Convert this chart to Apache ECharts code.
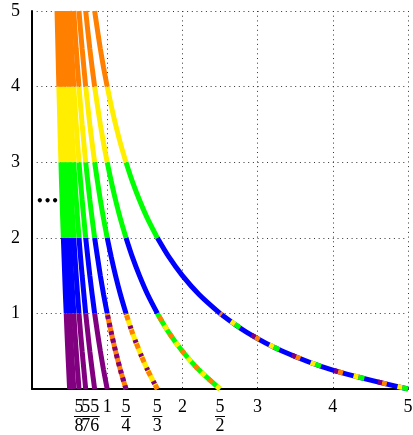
<!DOCTYPE html>
<html><head><meta charset="utf-8">
<script src="https://cdn.jsdelivr.net/npm/echarts@6/dist/echarts.min.js"></script>
<style>html,body{margin:0;padding:0;background:#fff}#c{width:413px;height:435px}</style>
</head><body><div id="c"></div>
<script>
// y positions of the sampled points (shared by all curves)
const yLevels = [0,0.25,0.5,0.75,1,1.25,1.5,1.75,2,2.25,2.5,2.75,3,3.25,3.5,3.75,4,4.25,4.5,4.75,5];
// x positions of each curve at those y levels
const curve1 = [5.000,4.000,3.333,2.857,2.500,2.222,2.000,1.818,1.667,1.538,1.429,1.333,1.250,1.176,1.111,1.053,1.000,0.952,0.909,0.870,0.833];
const curve2 = [2.500,2.222,2.000,1.818,1.667,1.538,1.429,1.333,1.250,1.176,1.111,1.053,1.000,0.952,0.909,0.870,0.833,0.800,0.769,0.741,0.714];
const curve3 = [1.667,1.538,1.429,1.333,1.250,1.176,1.111,1.053,1.000,0.952,0.909,0.870,0.833,0.800,0.769,0.741,0.714,0.690,0.667,0.645,0.625];
const curve4 = [1.250,1.176,1.111,1.053,1.000,0.952,0.909,0.870,0.833,0.800,0.769,0.741,0.714,0.690,0.667,0.645,0.625,0.606,0.588,0.571,0.556];
const curve5 = [1.000,0.952,0.909,0.870,0.833,0.800,0.769,0.741,0.714,0.690,0.667,0.645,0.625,0.606,0.588,0.571,0.556,0.541,0.526,0.513,0.500];
const curve6 = [0.833,0.800,0.769,0.741,0.714,0.690,0.667,0.645,0.625,0.606,0.588,0.571,0.556,0.541,0.526,0.513,0.500,0.488,0.476,0.465,0.455];
const curve7 = [0.714,0.690,0.667,0.645,0.625,0.606,0.588,0.571,0.556,0.541,0.526,0.513,0.500,0.488,0.476,0.465,0.455,0.444,0.435,0.426,0.417];
const curve8 = [0.625,0.606,0.588,0.571,0.556,0.541,0.526,0.513,0.500,0.488,0.476,0.465,0.455,0.444,0.435,0.426,0.417,0.408,0.400,0.392,0.385];
const curve9 = [0.556,0.541,0.526,0.513,0.500,0.488,0.476,0.465,0.455,0.444,0.435,0.426,0.417,0.408,0.400,0.392,0.385,0.377,0.370,0.364,0.357];
const curve10 = [0.500,0.488,0.476,0.465,0.455,0.444,0.435,0.426,0.417,0.408,0.400,0.392,0.385,0.377,0.370,0.364,0.357,0.351,0.345,0.339,0.333];
// x tick labels
const xTickValues = [0.625, 0.7143, 0.8333, 1, 1.25, 1.6667, 2, 2.5, 3, 4, 5];
const xTickNum = ['5','5','5','1','5','5','2','5','3','4','5'];
const xTickDen = ['8','7','6','','4','3','','2','','',''];
const yTickLabels = ['', '1', '2', '3', '4', '5'];

const curves = [curve1,curve2,curve3,curve4,curve5,curve6,curve7,curve8,curve9,curve10];
const bandColors = ['#800080','#0000ff','#00ff00','#ffee00','#ff8000'];
const C = {purple:'#800080', blue:'#0000ff', green:'#00ff00', yellow:'#ffee00', orange:'#ff8000'};
// styling of the multicoloured lowest segments of the first four curves
const bottomStyles = [
  {base:C.blue, over:[{c:C.green,d:[6,39],o:0},{c:C.yellow,d:[5,40],o:-6},{c:C.orange,d:[5,40],o:-22},{c:C.purple,d:[4,41],o:-27}]},
  {base:C.green, over:[{c:C.yellow,d:[5,15],o:0},{c:C.orange,d:[5,15],o:-10}]},
  {base:C.yellow, over:[{c:C.orange,d:[5,10],o:0},{c:C.purple,d:[3,12],o:-6}]},
  {base:C.orange, over:[{c:C.purple,d:[4,4],o:0}]}
];
const LW = 5;
const series = [];
for (let ci = curves.length - 1; ci >= 0; ci--) {
  const xs = curves[ci];
  for (let b = 0; b < 5; b++) {
    const pts = [];
    for (let j = b * 4; j <= b * 4 + 4; j++) pts.push([xs[j], yLevels[j]]);
    let baseColor = bandColors[b];
    const special = (b === 0 && ci < bottomStyles.length) ? bottomStyles[ci] : null;
    if (special) baseColor = special.base;
    series.push({type:'line', data:pts, symbol:'none', smooth:0.3, silent:true, animation:false,
      lineStyle:{width:LW, color:baseColor, cap:'butt'}, z:3});
    if (special) {
      special.over.forEach(o => {
        series.push({type:'line', data:pts, symbol:'none', smooth:0.3, silent:true, animation:false,
          lineStyle:{width:LW, color:o.c, type:o.d, dashOffset:o.o, cap:'butt'}, z:4});
      });
    }
  }
}

const serif = 'Liberation Serif';
const xLabelRich = {
  n:{fontFamily:serif, fontSize:18, lineHeight:16, color:'#000', align:'center'},
  bar:{width:10, height:1, lineHeight:3, backgroundColor:'#000', fontSize:1, align:'center'}
};
function xLabelFormatter(v){
  let idx = 0, best = 1e9;
  xTickValues.forEach((t,i)=>{ if (Math.abs(t-v) < best){best=Math.abs(t-v); idx=i;} });
  if (xTickDen[idx]) return '{n|' + xTickNum[idx] + '}\n{bar| }\n{n|' + xTickDen[idx] + '}';
  return '{n|' + xTickNum[idx] + '}';
}
// the closely packed labels 5/8, 5/7, 5/6 are split over several overlaid axes so none is dropped
const labelGroups = [
  [xTickValues[0]].concat(xTickValues.slice(3)),
  [xTickValues[1]],
  [xTickValues[2]]
];
const xAxes = labelGroups.map((vals, gi) => ({
  type:'value', min:0, max:5, interval:1, position:'bottom', offset:0,
  axisLine:{show:gi === 0, onZero:false, lineStyle:{color:'#000', width:2}},
  axisTick:{show:false},
  splitLine:{show:gi === 0, lineStyle:{color:'#333', width:1, type:[1,3.7]}},
  axisLabel:{customValues:vals, margin:10, color:'#000', hideOverlap:false,
    formatter:xLabelFormatter, rich:xLabelRich}
}));

const chart = echarts.init(document.getElementById('c'), null, {renderer:'canvas'});
chart.setOption({
  animation:false,
  backgroundColor:'#fff',
  grid:{left:32, right:5, top:11, bottom:46, containLabel:false, outerBoundsMode:'none'},
  xAxis:xAxes,
  yAxis:{type:'value', min:0, max:5, interval:1,
    axisLine:{show:true, onZero:false, lineStyle:{color:'#000', width:2}},
    axisTick:{show:false},
    splitLine:{show:true, lineStyle:{color:'#333', width:1, type:[1,3.7]}},
    axisLabel:{margin:12, color:'#000', fontFamily:serif, fontSize:18,
      formatter:function(v){ return yTickLabels[Math.round(v)] || ''; }}
  },
  graphic:[{type:'text', left:36, top:196, z:10,
    style:{text:'\u2022\u2022\u2022', font:'bold 12px "DejaVu Sans"', fill:'#000'}}],
  series:series
});
</script>
</body></html>
